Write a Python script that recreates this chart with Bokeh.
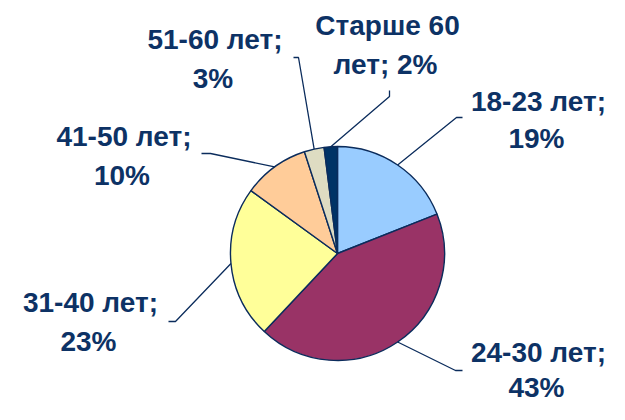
import math
from bokeh.plotting import figure
from bokeh.models import Range1d, ColumnDataSource
from bokeh.core.properties import value
from bokeh.embed import file_html
from bokeh.resources import INLINE

# ---- data ----
categories = ["18-23 лет", "24-30 лет", "31-40 лет", "41-50 лет", "51-60 лет", "Старше 60 лет"]
shares = [19, 43, 23, 10, 3, 2]
colors = ["#99CCFF", "#993366", "#FFFF99", "#FFCC99", "#DEDCC2", "#003366"]

# ---- layout (pixel space) ----
W, H = 609, 404
cx, cy, r = 337, 253, 107
label_anchor = [(538, 112), (538, 363), (90, 313), (123.5, 147), (214.5, 50), (387, 36)]
line_gaps = [37, 35, 39, 39, 39, 39]
leader_elbow = [[(456, 117), (462, 117)], [(455, 370), (462, 370)], [(175, 321), (168, 321)],
                [(210, 153), (201, 153)], [(298, 57), (293, 57)], [(389, 96), (389, 90)]]
words_first_line = 2
text_shift = -11
navy = "#0B2C5C"
text_color = "#0D3265"
font = "Liberation Sans"

p = figure(width=W, height=H, output_backend="svg", toolbar_location=None,
           x_range=Range1d(0, W), y_range=Range1d(-H, 0),
           min_border=0, outline_line_color=None, background_fill_color="white")
p.axis.visible = False
p.grid.visible = False

# wedges, clockwise from 12 o'clock
total = sum(shares)
starts, ends, mids = [], [], []
cum = 0.0
for v in shares:
    a0 = cum / total * 2 * math.pi
    cum += v
    a1 = cum / total * 2 * math.pi
    starts.append(math.pi / 2 - a0)
    ends.append(math.pi / 2 - a1)
    mids.append((a0 + a1) / 2)

src = ColumnDataSource(dict(x=[cx] * len(shares), y=[-cy] * len(shares),
                            start=starts, end=ends, color=colors))
p.wedge(x="x", y="y", radius=r, start_angle="start", end_angle="end", direction="clock",
        fill_color="color", line_color=navy, line_width=1.4, source=src)

# leader lines from slice mid-angle edge
xs, ys = [], []
for m, elbow in zip(mids, leader_elbow):
    ex = cx + r * math.sin(m)
    ey = -cy + r * math.cos(m)
    xs.append([ex] + [pt[0] for pt in elbow])
    ys.append([ey] + [-pt[1] for pt in elbow])
p.multi_line(xs=xs, ys=ys, line_color=navy, line_width=1.3)

# labels
l1x, l1y, l1t, l2x, l2y, l2t = [], [], [], [], [], []
for cat, v, (ax, ay), gap in zip(categories, shares, label_anchor, line_gaps):
    words = f"{cat}; {v}%".split(" ")
    l1t.append(" ".join(words[:words_first_line]))
    l2t.append(" ".join(words[words_first_line:]))
    l1x.append(ax)
    l1y.append(-ay)
    l2x.append(ax - 2)
    l2y.append(-(ay + gap))

for tx, ty, tt in ((l1x, l1y, l1t), (l2x, l2y, l2t)):
    p.text(x=tx, y=ty, text=tt, text_font=value(font), text_font_style="bold",
           text_font_size="28px", text_color=text_color, text_align="center",
           text_baseline="alphabetic", y_offset=text_shift)

open("out.html", "w").write(file_html(p, INLINE))
